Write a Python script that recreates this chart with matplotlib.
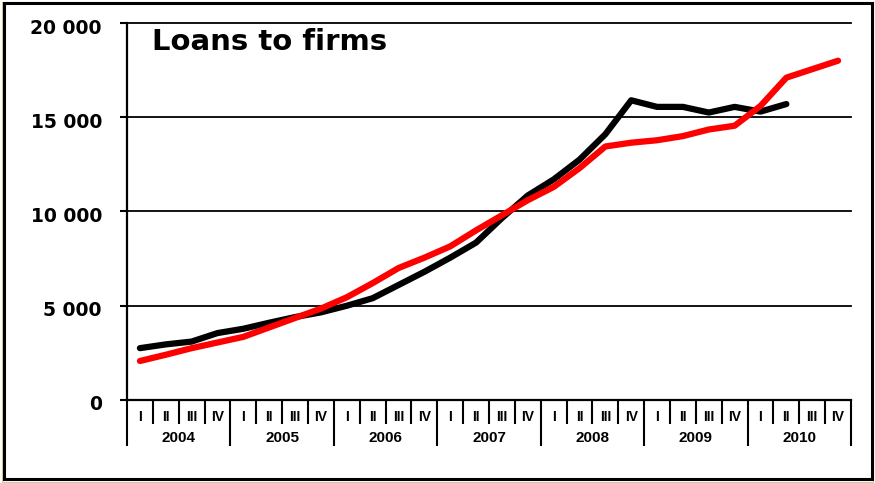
import numpy as np
import matplotlib
matplotlib.use("Agg")
import matplotlib.pyplot as plt
from matplotlib.patches import Rectangle
from matplotlib.transforms import offset_copy

# ─────────────────────────────────────────────
# Data
# ─────────────────────────────────────────────
years = ["2004", "2005", "2006", "2007", "2008", "2009", "2010"]
quarters = ["I", "II", "III", "IV"]

# black series, 2004 I .. 2010 II
black_vals = [2750, 2950, 3100, 3550, 3780, 4100, 4400, 4650,
              5000, 5400, 6100, 6800, 7550, 8350, 9650, 10850,
              11700, 12750, 14100, 15900, 15550, 15550, 15250, 15550,
              15300, 15700]
# red series, 2004 I .. 2010 IV
red_vals = [2070, 2400, 2750, 3050, 3350, 3850, 4350, 4850,
            5450, 6200, 7000, 7550, 8150, 9000, 9800, 10600,
            11300, 12300, 13450, 13650, 13780, 14000, 14350, 14550,
            15600, 17100, 17550, 18000]

y_ticks = [0, 5000, 10000, 15000, 20000]
title = "Loans to firms"

n_q = len(years) * len(quarters)

fig = plt.figure(figsize=(8.75, 4.83), dpi=100)
ax = fig.add_axes([127 / 875, 1 - 400 / 483, 724 / 875, 377 / 483])

x_black = np.arange(len(black_vals)) + 0.5
x_red = np.arange(len(red_vals)) + 0.5

ax.plot(x_black, black_vals, color="black", lw=4.5, solid_capstyle="round",
        solid_joinstyle="round", zorder=3)
ax.plot(x_red, red_vals, color="#ff0000", lw=4.5, solid_capstyle="round",
        solid_joinstyle="round", zorder=4)

ax.set_xlim(0, n_q)
ax.set_ylim(0, 20000)

for v in y_ticks:
    ax.axhline(v, color="black", lw=1.3 if v else 1.6, clip_on=False, zorder=2)

for s in ["top", "right", "bottom"]:
    ax.spines[s].set_visible(False)
ax.spines["left"].set_linewidth(1.6)

ax.set_xticks([])
ax.set_yticks(y_ticks)
ax.set_yticklabels([])
ax.tick_params(axis="y", direction="out", length=5, width=1.5)

# y labels, sitting a little below their gridline as in the reference
yt = offset_copy(ax.get_yaxis_transform(), fig=fig, x=-25, y=-3, units="dots")
for v in y_ticks:
    ax.text(0, v, f"{v:,}".replace(",", " "), transform=yt, ha="right",
            va="center_baseline", fontsize=13.5, fontweight="bold",
            family="DejaVu Sans", clip_on=False)

# quarter / year separators and labels under the axis
xt = ax.get_xaxis_transform()
for k in range(n_q + 1):
    low = -0.122 if k % 4 == 0 else -0.0637
    ax.plot([k, k], [0, low], color="black", lw=1.5, transform=xt,
            clip_on=False, solid_capstyle="butt")
for k in range(n_q):
    ax.text(k + 0.5, -0.046, quarters[k % 4], transform=xt, ha="center",
            va="center", fontsize=10, fontweight="bold",
            family="Liberation Sans")
for j, yr in enumerate(years):
    ax.text(4 * j + 2, -0.102, yr, transform=xt, ha="center", va="center",
            fontsize=11, fontweight="bold", family="Liberation Sans")

fig.text(152 / 875, 1 - 50 / 483, title, ha="left", va="baseline",
         fontsize=21, fontweight="bold", family="DejaVu Sans")

# frame round the picture
fig.patches.append(Rectangle((1.5 / 875, 1 - 481.5 / 483), 871.5 / 875, 480 / 483,
                             transform=fig.transFigure, fill=False,
                             edgecolor="#d9c98c", lw=0.8))
fig.patches.append(Rectangle((3.5 / 875, 1 - 478.5 / 483), 868 / 875, 475.5 / 483,
                             transform=fig.transFigure, fill=False,
                             edgecolor="black", lw=2.2))

fig.savefig("out.png", dpi=100)
